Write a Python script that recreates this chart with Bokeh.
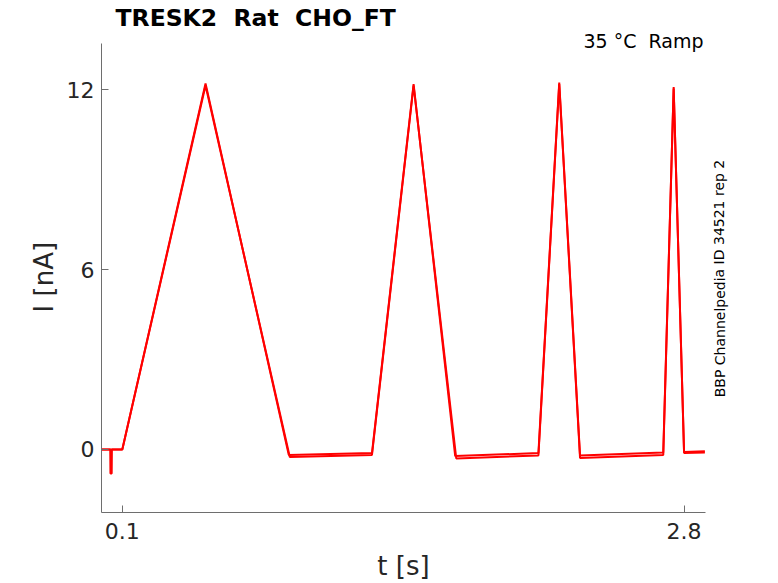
from bokeh.plotting import figure
from bokeh.models import FixedTicker, Label, Range1d
from bokeh.embed import file_html
from bokeh.resources import INLINE

# Ramp protocol trace, breakpoints (t in s, I in nA)
sweep1_t = [0.0, 0.042, 0.043, 0.049, 0.050, 0.1, 0.5, 0.9, 1.3, 1.5, 1.7, 2.1, 2.2, 2.3, 2.7, 2.75, 2.8, 2.9]
sweep1_i = [0.0, 0.0, -0.8, -0.8, 0.0, 0.0, 12.22, -0.18, -0.12, 12.2, -0.22, -0.12, 12.25, -0.2, -0.1, 12.1, -0.08, -0.06]
sweep2_t = [0.0, 0.1, 0.5, 0.905, 1.3, 1.5, 1.705, 2.1, 2.2, 2.3, 2.7, 2.75, 2.8, 2.9]
sweep2_i = [0.0, 0.0, 12.15, -0.25, -0.18, 12.15, -0.3, -0.2, 12.2, -0.28, -0.18, 12.05, -0.12, -0.1]

x_ticks = [0.1, 2.8]
y_ticks = [0, 6, 12]
y_axis_extent = (-2.103, 13.55)

title_text = "TRESK2\u00a0 Rat\u00a0 CHO_FT"
cond_text = "35 \u00b0C\u00a0 Ramp"
side_text = "BBP Channelpedia ID 34521 rep 2"
x_label = "t [s]"
y_label = "I [nA]"

FONT = "DejaVu Sans"
TXT = "#262626"
AX = "#6e6e6e"

p = figure(width=778, height=583, output_backend="svg", toolbar_location=None,
           x_range=Range1d(0.0, 2.903), y_range=Range1d(-2.103, 14.987),
           min_border_left=101, min_border_right=73, min_border_top=0, min_border_bottom=71)
p.outline_line_color = None
p.grid.visible = False
p.background_fill_color = "white"
p.border_fill_color = "white"

for ax in (p.xaxis[0], p.yaxis[0]):
    ax.axis_line_color = AX
    ax.major_tick_line_color = AX
    ax.minor_tick_line_color = None
    ax.major_tick_in = 7
    ax.major_tick_out = 0
    ax.major_label_text_font = FONT
    ax.major_label_text_font_size = "22px"
    ax.major_label_text_color = TXT
    ax.axis_label_text_font = FONT
    ax.axis_label_text_font_size = "26px"
    ax.axis_label_text_color = TXT
    ax.axis_label_text_font_style = "normal"

p.yaxis.bounds = y_axis_extent
p.xaxis.ticker = FixedTicker(ticks=x_ticks)
p.yaxis.ticker = FixedTicker(ticks=y_ticks)
p.xaxis.major_label_overrides = {0.1: "0.1", 2.8: "2.8"}
p.yaxis.major_label_overrides = {0: "0", 6: "6", 12: "12"}
p.xaxis.axis_label = x_label
# the frame reaches the top edge, so pad the label to centre it on the drawn axis line
p.yaxis.axis_label = y_label + "\u00a0" * 5
p.xaxis.major_label_standoff = 10
p.xaxis.axis_label_standoff = 9
p.yaxis.major_label_standoff = 7
p.yaxis.axis_label_standoff = 5

p.line(sweep2_t, sweep2_i, line_color="#ff0000", line_width=2)
p.line(sweep1_t, sweep1_i, line_color="#ff0000", line_width=2)

# texts inside the (tall) frame: screen units from the frame's bottom-left corner
p.add_layout(Label(x=14, y=495, x_units="screen", y_units="screen", text=title_text,
                   text_font=FONT, text_font_size="23.5px", text_font_style="bold",
                   text_color="black", text_baseline="middle"))
p.add_layout(Label(x=602, y=472, x_units="screen", y_units="screen", text=cond_text,
                   text_font=FONT, text_font_size="19px", text_color="black",
                   text_align="right", text_baseline="middle"))
# vertical note in the right side panel
p.add_layout(Label(x=14, y=234, x_units="screen", y_units="screen", text=side_text,
                   text_font=FONT, text_font_size="14px", text_color="black",
                   text_align="center", text_baseline="middle", angle=1.5708), "right")

open("out.html", "w").write(file_html(p, INLINE))
